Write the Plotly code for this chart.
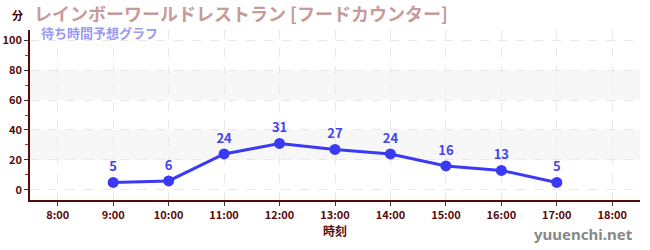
import plotly.graph_objects as go

hours = [9, 10, 11, 12, 13, 14, 15, 16, 17]
waits = [5, 6, 24, 31, 27, 24, 16, 13, 5]
tick_vals = [8, 9, 10, 11, 12, 13, 14, 15, 16, 17, 18]
tick_text = ["8:00", "9:00", "10:00", "11:00", "12:00", "13:00", "14:00", "15:00", "16:00", "17:00", "18:00"]
bands = [(20, 40), (60, 80)]

FONT = "Noto Sans CJK JP"
axis_col = "#5a0a0a"

fig = go.Figure()
fig.add_trace(go.Scatter(
    x=hours, y=waits, mode="lines+markers+text",
    text=[str(v) for v in waits], textposition="top center",
    textfont=dict(family=FONT, size=13, color="#4444ee", weight="bold"),
    line=dict(color="#3a3af5", width=3),
    marker=dict(color="#3a3af5", size=11),
    cliponaxis=False, hoverinfo="skip",
))
for lo, hi in bands:
    fig.add_shape(type="rect", xref="paper", yref="y", x0=0, x1=1, y0=lo, y1=hi,
                  fillcolor="#f7f7f7", line_width=0, layer="below")

fig.update_layout(
    width=650, height=250,
    margin=dict(l=30, r=10, t=30, b=50),
    paper_bgcolor="white", plot_bgcolor="white",
    showlegend=False,
    font=dict(family=FONT, color=axis_col),
    xaxis=dict(
        range=[7.5, 18.5], tickvals=tick_vals, ticktext=tick_text,
        showgrid=True, gridcolor="#e8e8e8", griddash="dash", gridwidth=1,
        showline=True, linecolor=axis_col, linewidth=1.5,
        ticks="outside", ticklen=4, tickcolor="#333",
        tickfont=dict(size=11, color=axis_col, weight="bold"),
        zeroline=False, automargin=False,
        title=dict(text="時刻", font=dict(size=12, color=axis_col, weight="bold"), standoff=6),
    ),
    yaxis=dict(
        range=[-6.7, 106.7], tickvals=[0, 20, 40, 60, 80, 100],
        showgrid=True, gridcolor="#e8e8e8", griddash="dash", gridwidth=1,
        showline=True, linecolor=axis_col, linewidth=1.5,
        ticks="outside", ticklen=4, tickcolor="#333",
        tickfont=dict(size=11, color=axis_col, weight="bold"),
        zeroline=False, automargin=False,
        minor=dict(tickvals=[10, 30, 50, 70, 90], ticks="outside", ticklen=3, tickcolor="#dd2222", showgrid=False),
    ),
    annotations=[
        dict(text="分", xref="paper", yref="paper", x=0, y=1, xanchor="right", yanchor="middle",
             xshift=-5, yshift=15, showarrow=False, font=dict(size=11, color="#3a0000", weight="bold")),
        dict(text="レインボーワールドレストラン [フードカウンター]", xref="paper", yref="paper", x=0, y=1,
             xanchor="left", yanchor="middle", xshift=2, yshift=17.5, showarrow=False,
             font=dict(size=18, color="#c99a9a", weight="bold")),
        dict(text="待ち時間予想グラフ", xref="paper", yref="paper", x=0, y=1,
             xanchor="left", yanchor="middle", xshift=9, yshift=-2, showarrow=False,
             font=dict(size=13, color="#9a9af5", weight="bold")),
        dict(text="yuuenchi.net", xref="paper", yref="paper", x=1, y=0,
             xanchor="right", yanchor="top", xshift=-5, yshift=-22, showarrow=False,
             font=dict(family="Noto Sans", size=15, color="#888888", weight="bold")),
    ],
)
fig.write_html("out.html")
